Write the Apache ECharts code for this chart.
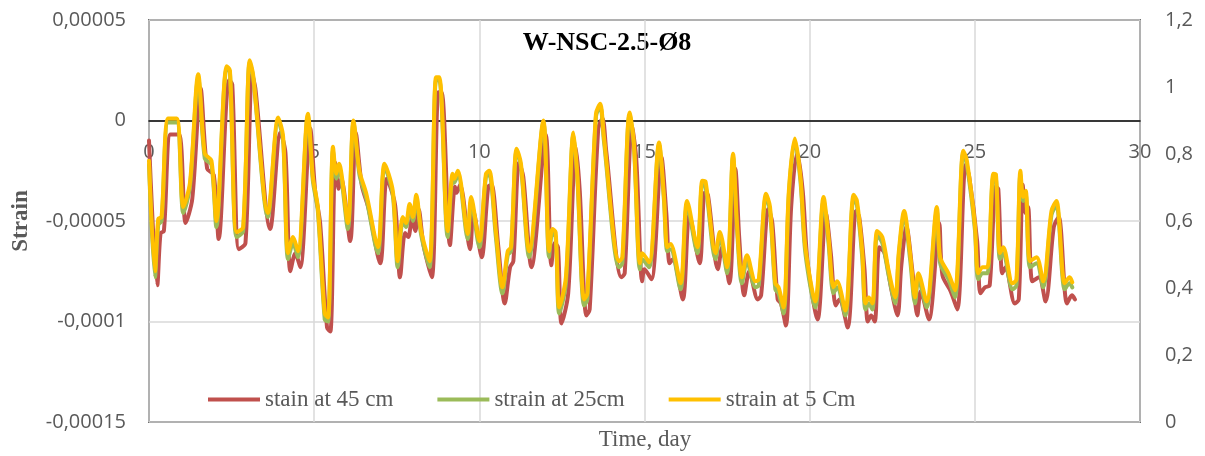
<!DOCTYPE html>
<html>
<head>
<meta charset="utf-8">
<script src="https://cdn.jsdelivr.net/npm/echarts@6/dist/echarts.min.js"></script>
<style>
  html, body { margin: 0; padding: 0; background: #fff; }
  #chart { width: 1205px; height: 456px; }
</style>
</head>
<body>
<div id="chart"></div>
<script>
// strain values are in units of 1e-5 (left axis labels convert back)
const days = [
  0.00, 0.18, 0.28, 0.38, 0.58, 0.84, 1.04, 1.24, 1.49, 1.69, 1.89, 2.04, 2.35, 2.45, 2.65, 2.85,
  3.05, 3.15, 3.60, 3.91, 4.06, 4.21, 4.36, 4.51, 4.81, 4.96, 5.11, 5.32, 5.42, 5.57, 5.67, 5.75,
  6.02, 6.19, 6.37, 6.58, 6.93, 7.13, 7.38, 7.53, 7.68, 7.78, 7.89, 7.99, 8.09, 8.24, 8.49, 8.69,
  8.79, 9.04, 9.19, 9.24, 9.35, 9.65, 9.75, 10.00, 10.20, 10.30, 10.50, 10.70, 10.86, 10.96, 11.13, 11.26,
  11.51, 11.94, 12.11, 12.21, 12.31, 12.42, 12.62, 12.85, 12.97, 13.17, 13.27, 13.53, 13.66, 13.77, 14.23, 14.33,
  14.55, 14.68, 14.86, 14.93, 15.14, 15.44, 15.59, 15.69, 15.79, 16.09, 16.29, 16.60, 16.75, 16.85, 17.15, 17.28,
  17.50, 17.68, 17.80, 17.95, 18.10, 18.36, 18.46, 18.68, 18.80, 18.96, 19.06, 19.21, 19.37, 19.55, 19.72, 19.87,
  20.17, 20.42, 20.57, 20.72, 20.83, 21.08, 21.33, 21.43, 21.59, 21.69, 21.79, 21.90, 22.04, 22.20, 22.39, 22.59,
  22.70, 22.86, 23.04, 23.19, 23.29, 23.54, 23.85, 23.95, 24.20, 24.40, 24.65, 24.76, 25.00, 25.10, 25.24, 25.38,
  25.56, 25.64, 25.76, 25.86, 26.14, 26.26, 26.38, 26.46, 26.54, 26.67, 26.87, 27.07, 27.32, 27.47, 27.72, 27.87,
  27.95
];

const strain5 = [
  -2.0, -7.5, -4.9, -4.8, 0.1, 0.1, -4.3, -3.1, 2.3, -1.65, -2.0, -5.0, 2.7, 2.5, -5.55, -5.3,
  3.0, 2.3, -4.6, 0.15, -0.8, -6.6, -5.8, -6.5, 0.33, -2.8, -4.3, -9.6, -9.8, -1.3, -2.65, -2.15,
  -5.1, 0.0, -2.5, -3.65, -6.3, -2.15, -3.5, -7.0, -4.8, -5.1, -4.15, -4.8, -3.7, -5.5, -7.0, 2.15,
  2.15, -5.5, -2.65, -2.9, -2.5, -5.65, -3.8, -6.0, -2.65, -2.5, -5.5, -8.3, -6.5, -6.3, -1.4, -2.15,
  -6.5, 0.0, -6.5, -5.4, -5.55, -9.3, -7.8, -0.6, -2.8, -8.9, -8.6, 0.33, 0.83, -0.8, -7.0, -6.8,
  0.4, -1.15, -7.1, -6.6, -7.05, -1.1, -3.8, -6.3, -6.15, -8.1, -4.0, -6.3, -3.0, -3.05, -6.6, -5.55,
  -7.3, -1.65, -5.15, -7.8, -6.7, -8.0, -7.9, -3.65, -4.3, -8.1, -8.3, -9.3, -3.5, -0.9, -2.8, -6.3,
  -9.0, -3.8, -5.8, -8.3, -8.0, -9.45, -3.7, -4.0, -6.5, -9.1, -8.8, -9.1, -5.5, -5.8, -7.46, -8.8,
  -6.5, -4.5, -6.6, -8.8, -7.6, -9.0, -4.3, -6.8, -7.6, -8.45, -1.5, -2.0, -5.15, -7.6, -7.3, -7.3,
  -2.65, -2.7, -6.6, -6.3, -8.1, -7.9, -2.5, -3.8, -3.5, -7.0, -6.8, -8.0, -4.5, -4.0, -8.1, -7.8,
  -8.05
];

const strain25 = [
  -2.2, -7.8, -5.2, -5.0, -0.1, -0.1, -4.6, -3.3, 2.1, -1.9, -2.2, -5.3, 2.6, 2.4, -5.8, -5.5,
  2.9, 2.2, -4.8, 0.0, -1.0, -6.9, -6.1, -6.8, 0.2, -3.0, -4.5, -9.9, -10.0, -1.5, -2.9, -2.4,
  -5.4, -0.1, -2.7, -3.9, -6.6, -2.3, -3.7, -7.3, -5.0, -5.3, -4.4, -5.0, -3.9, -5.7, -7.3, 2.0,
  2.0, -5.8, -2.9, -3.1, -2.7, -5.9, -4.0, -6.3, -2.8, -2.7, -5.8, -8.6, -6.7, -6.5, -1.5, -2.3,
  -6.8, -0.1, -6.8, -5.6, -5.8, -9.6, -8.1, -0.7, -3.0, -9.2, -8.9, 0.2, 0.7, -1.0, -7.3, -7.1,
  0.3, -1.3, -7.4, -6.9, -7.3, -1.2, -4.0, -6.5, -6.4, -8.4, -4.2, -6.6, -3.2, -3.3, -6.9, -5.8,
  -7.6, -1.8, -5.4, -8.1, -7.0, -8.3, -8.2, -3.8, -4.5, -8.4, -8.6, -9.6, -3.7, -1.0, -3.0, -6.6,
  -9.3, -4.0, -6.1, -8.6, -8.3, -9.7, -3.9, -4.2, -6.8, -9.4, -9.1, -9.4, -5.7, -6.1, -7.7, -9.1,
  -6.7, -4.7, -6.9, -9.1, -7.9, -9.3, -4.5, -7.1, -7.9, -8.8, -1.6, -2.2, -5.4, -7.9, -7.6, -7.6,
  -2.8, -2.9, -6.9, -6.6, -8.4, -8.2, -2.7, -4.0, -3.7, -7.3, -7.1, -8.3, -4.7, -4.2, -8.4, -8.1,
  -8.3
];

const days45 = [
  0.00, 0.25, 0.35, 0.45, 0.65, 0.91, 1.11, 1.31, 1.56, 1.76, 1.96, 2.11, 2.42, 2.52, 2.72, 2.92,
  3.12, 3.22, 3.67, 3.98, 4.13, 4.28, 4.43, 4.58, 4.88, 5.03, 5.18, 5.39, 5.49, 5.64, 5.74, 5.82,
  6.09, 6.26, 6.44, 6.65, 7.00, 7.20, 7.45, 7.60, 7.75, 7.85, 7.96, 8.06, 8.16, 8.31, 8.56, 8.76,
  8.86, 9.11, 9.26, 9.31, 9.42, 9.72, 9.82, 10.07, 10.27, 10.37, 10.57, 10.77, 10.93, 11.03, 11.20, 11.33,
  11.58, 12.01, 12.18, 12.28, 12.38, 12.49, 12.69, 12.92, 13.04, 13.24, 13.34, 13.60, 13.73, 13.84, 14.30, 14.40,
  14.62, 14.75, 14.93, 15.00, 15.21, 15.51, 15.66, 15.76, 15.86, 16.16, 16.36, 16.67, 16.82, 16.92, 17.22, 17.35,
  17.57, 17.75, 17.87, 18.02, 18.17, 18.43, 18.53, 18.75, 18.87, 19.03, 19.13, 19.28, 19.44, 19.62, 19.79, 19.94,
  20.24, 20.49, 20.64, 20.79, 20.90, 21.15, 21.40, 21.50, 21.66, 21.76, 21.86, 21.97, 22.11, 22.27, 22.46, 22.66,
  22.77, 22.93, 23.11, 23.26, 23.36, 23.61, 23.92, 24.02, 24.27, 24.47, 24.72, 24.83, 25.07, 25.17, 25.31, 25.45,
  25.63, 25.71, 25.83, 25.93, 26.21, 26.33, 26.45, 26.53, 26.61, 26.74, 26.94, 27.14, 27.39, 27.54, 27.79, 27.94,
  28.03
];

const strain45 = [
  -1.0, -8.2, -5.6, -5.5, -0.7, -0.7, -5.1, -3.9, 1.6, -2.4, -2.7, -5.9, 2.0, 1.8, -6.4, -6.1,
  2.3, 1.6, -5.4, -0.6, -1.6, -7.5, -6.6, -7.3, -0.4, -3.5, -5.1, -10.3, -10.5, -2.1, -3.4, -2.9,
  -6.0, -0.6, -3.2, -4.4, -7.1, -2.9, -4.2, -7.8, -5.6, -5.8, -4.9, -5.5, -4.4, -6.2, -7.8, 1.4,
  1.4, -6.2, -3.3, -3.6, -3.2, -6.4, -4.5, -6.8, -3.3, -3.2, -6.2, -9.1, -7.3, -7.0, -2.1, -2.8,
  -7.3, -0.7, -7.2, -6.1, -6.3, -10.1, -8.6, -1.3, -3.5, -9.7, -9.4, -0.4, 0.1, -1.5, -7.8, -7.6,
  -0.3, -1.9, -8.0, -7.4, -7.9, -1.8, -4.6, -7.1, -6.9, -8.9, -4.7, -7.1, -3.6, -3.7, -7.4, -6.3,
  -8.1, -2.4, -5.9, -8.7, -7.5, -8.9, -8.7, -4.4, -5.1, -8.9, -9.1, -10.2, -4.3, -1.6, -3.5, -7.1,
  -9.9, -4.6, -6.6, -9.2, -8.9, -10.3, -4.5, -4.8, -7.4, -10.0, -9.7, -10.0, -6.3, -6.6, -8.3, -9.7,
  -7.3, -5.3, -7.5, -9.7, -8.5, -9.9, -5.1, -7.7, -8.5, -9.4, -2.2, -2.8, -6.0, -8.6, -8.3, -8.2,
  -3.3, -3.4, -7.6, -7.3, -9.1, -8.9, -3.2, -4.6, -4.3, -8.0, -7.8, -9.0, -5.3, -4.8, -9.1, -8.7,
  -8.9
];

const leftTicks = { min: -15, max: 5, step: 5 };   // x 1e-5 strain
const rightTicks = { min: 0, max: 1.2, step: 0.2 };

const labelFont = { fontFamily: 'Open Sans', fontSize: 20, color: '#595959' };

function pairs(xs, ys) {
  return xs.map((x, i) => [x, ys[i]]);
}

function lineSeries(name, color, data) {
  return {
    name: name,
    type: 'line',
    xAxisIndex: 0,
    yAxisIndex: 0,
    data: data,
    showSymbol: false,
    symbol: 'none',
    smooth: 0.3,
    lineStyle: { color: color, width: 4, join: 'round', cap: 'round' },
    itemStyle: { color: color }
  };
}

// plot area: 20..422 px, zero line sits a quarter of the way down
const gridTop = 20, gridBottom = 34, gridHeight = 456 - gridTop - gridBottom;
const zeroOffset = -gridHeight * (0 - leftTicks.min) / (leftTicks.max - leftTicks.min);

const chart = echarts.init(document.getElementById('chart'));
chart.setOption({
  animation: false,
  backgroundColor: '#fff',
  grid: {
    left: 149, right: 65, top: gridTop, bottom: gridBottom,
    outerBoundsMode: 'none',
    containLabel: false,
    show: true, borderColor: '#000', borderWidth: 1.5
  },
  legend: {
    left: 203, top: 383,
    icon: 'rect', itemWidth: 52, itemHeight: 4, itemGap: 44,
    textStyle: { fontFamily: 'Liberation Serif', fontSize: 23, color: '#595959' },
    data: ['stain at 45 cm', 'strain at 25cm', 'strain at 5 Cm']
  },
  xAxis: {
    type: 'value', min: 0, max: 30, interval: 5,
    position: 'bottom',
    offset: zeroOffset, // axis line + labels drawn at strain = 0
    axisLine: { onZero: false, lineStyle: { color: '#000', width: 1.5 } },
    axisTick: { show: false },
    axisLabel: Object.assign({ margin: 22 }, labelFont),
    splitLine: { lineStyle: { color: '#d9d9d9', width: 1.5 } }
  },
  yAxis: [
    {
      type: 'value', position: 'left',
      min: leftTicks.min, max: leftTicks.max, interval: leftTicks.step,
      name: 'Strain', nameLocation: 'middle', nameGap: 116,
      nameTextStyle: { fontFamily: 'Liberation Serif', fontWeight: 'bold', fontSize: 23, color: '#595959' },
      axisLine: { show: false },
      axisTick: { show: false },
      axisLabel: Object.assign({
        margin: 23,
        formatter: v => (v === 0 ? '0' : String(+(v * 1e-5).toPrecision(3))).replace('.', ',')
      }, labelFont),
      splitLine: { lineStyle: { color: '#d9d9d9', width: 1.5 } }
    },
    {
      type: 'value', position: 'right',
      min: rightTicks.min, max: rightTicks.max, interval: rightTicks.step,
      axisLine: { show: false },
      axisTick: { show: false },
      splitLine: { show: false },
      axisLabel: Object.assign({
        margin: 25,
        formatter: v => String(+v.toFixed(1)).replace('.', ',')
      }, labelFont)
    }
  ],
  graphic: [
    {
      type: 'text', x: 607, y: 43,
      style: {
        text: 'W-NSC-2.5-Ø8', fill: '#000',
        font: 'bold 26px "Liberation Serif"',
        align: 'center', verticalAlign: 'middle'
      }
    },
    {
      type: 'text', x: 645, y: 440,
      style: {
        text: 'Time, day', fill: '#595959',
        font: '23px "Liberation Serif"',
        align: 'center', verticalAlign: 'middle'
      }
    }
  ],
  series: [
    lineSeries('stain at 45 cm', '#C0504D', pairs(days45, strain45)),
    lineSeries('strain at 25cm', '#9BBB59', pairs(days, strain25)),
    lineSeries('strain at 5 Cm', '#FFC000', pairs(days, strain5))
  ]
});
</script>
</body>
</html>
